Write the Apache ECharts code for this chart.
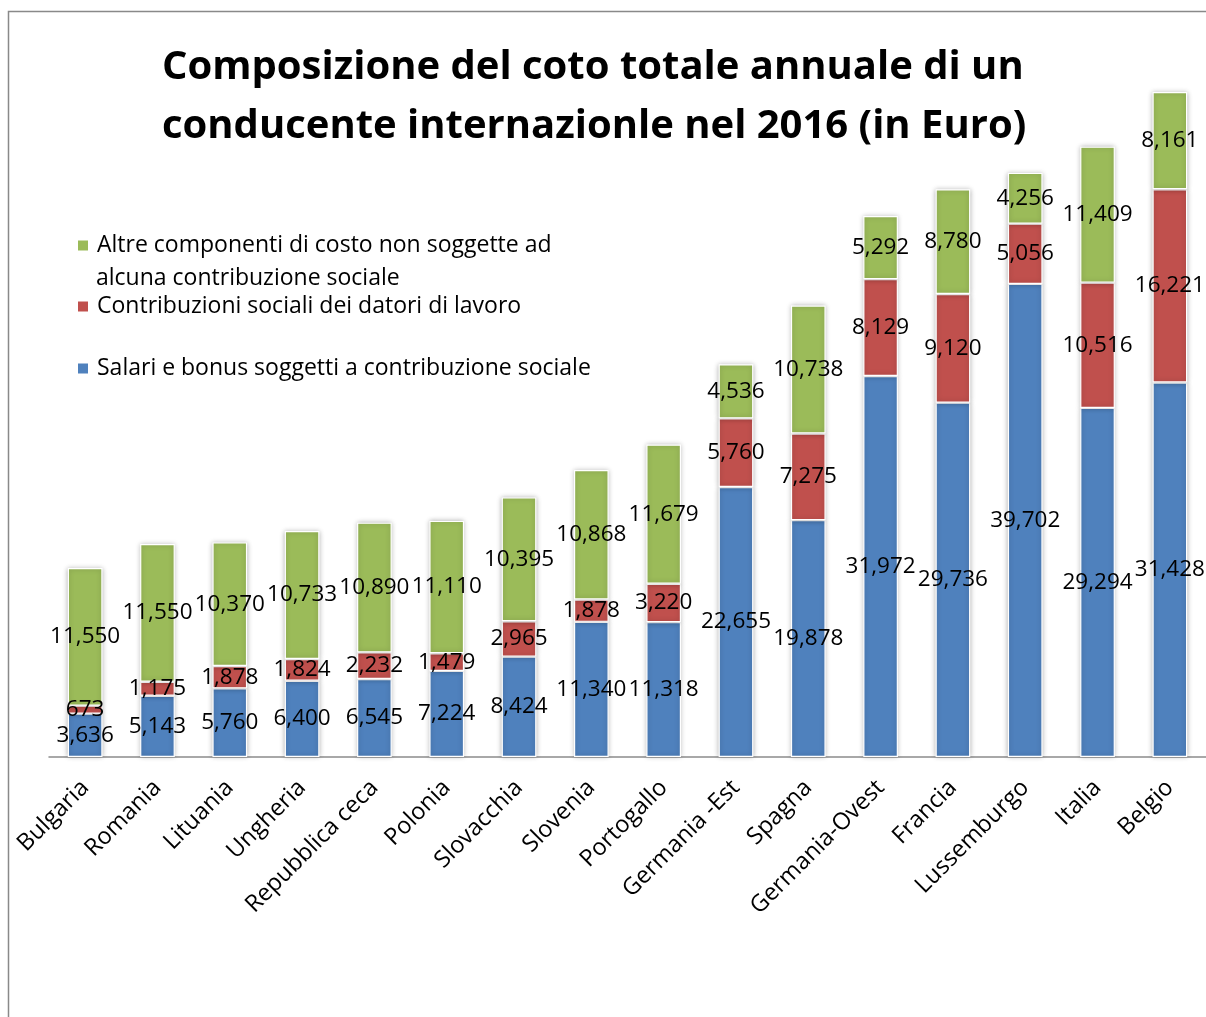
<!DOCTYPE html>
<html>
<head>
<meta charset="utf-8">
<script src="https://cdn.jsdelivr.net/npm/echarts@6/dist/echarts.min.js"></script>
<style>
html,body{margin:0;padding:0;background:#fff;}
#chart{width:1206px;height:1017px;}
</style>
</head>
<body>
<div id="chart"></div>
<script>
const categories = ['Bulgaria','Romania','Lituania','Ungheria','Repubblica ceca','Polonia','Slovacchia','Slovenia','Portogallo','Germania -Est','Spagna','Germania-Ovest','Francia','Lussemburgo','Italia','Belgio'];
const salari = [3636,5143,5760,6400,6545,7224,8424,11340,11318,22655,19878,31972,29736,39702,29294,31428];
const contributi = [673,1175,1878,1824,2232,1479,2965,1878,3220,5760,7275,8129,9120,5056,10516,16221];
const altre = [11550,11550,10370,10733,10890,11110,10395,10868,11679,4536,10738,5292,8780,4256,11409,8161];

const nameSalari = 'Salari e bonus soggetti a contribuzione sociale';
const nameContrib = 'Contribuzioni sociali dei datori di lavoro';
const nameAltre = 'Altre componenti di costo non soggette ad alcuna contribuzione sociale';

const FONT = 'Open Sans';
const chart = echarts.init(document.getElementById('chart'));

function barSeries(name, data, color) {
  return {
    name: name, type: 'bar', stack: 'tot', data: data,
    barWidth: '48%',
    itemStyle: {color: color, borderColor: '#fff', borderWidth: 1.2,
      shadowColor: 'rgba(0,0,0,0.28)', shadowBlur: 5},
    label: {show: true, position: 'inside', padding: [6, 0, 0, 0], color: '#000', fontFamily: FONT, fontSize: 22.5,
      formatter: p => p.value.toLocaleString('en-US')},
    labelLayout: {hideOverlap: false}
  };
}

const legendCommon = {orient: 'vertical', left: 76, padding: 0, itemWidth: 12, itemHeight: 12,
  icon: 'rect', textStyle: {fontFamily: FONT, fontSize: 23, color: '#000', padding: [0, 0, 0, 3]}, itemGap: 10};

chart.setOption({
  backgroundColor: '#fff',
  animation: false,
  title: {
    text: 'Composizione del coto totale annuale di un\nconducente internazionle nel 2016 (in Euro)',
    left: 162, top: 38, padding: 0,
    textStyle: {fontFamily: FONT, fontWeight: 'bold', fontSize: 40, lineHeight: 59, color: '#000'}
  },
  legend: [
    Object.assign({}, legendCommon, {top: 234, data: [nameAltre],
      formatter: () => 'Altre componenti di costo non soggette ad'}),
    Object.assign({}, legendCommon, {top: 295, data: [nameContrib]}),
    Object.assign({}, legendCommon, {top: 357, data: [nameSalari]})
  ],
  graphic: [
    {type: 'polyline', shape: {points: [[8.5, 1017], [8.5, 11.5], [1206, 11.5]]},
      style: {stroke: '#898989', lineWidth: 1.5, fill: null}, silent: true},
    {type: 'text', left: 96, top: 267, style: {text: 'alcuna contribuzione sociale',
      fontFamily: FONT, fontSize: 23, fill: '#000'}}
  ],
  grid: {left: 49, right: 0, top: 42, height: 715, containLabel: false},
  xAxis: {
    type: 'category', data: categories,
    axisLine: {lineStyle: {color: '#8c8c8c', width: 1.5}},
    axisTick: {show: false},
    axisLabel: {rotate: 45, interval: 0, margin: 27, fontFamily: FONT, fontSize: 23.5, color: '#000'}
  },
  yAxis: {type: 'value', min: 0, max: 60000, show: false, splitLine: {show: false}},
  series: [
    barSeries(nameSalari, salari, '#4F81BD'),
    barSeries(nameContrib, contributi, '#C0504D'),
    barSeries(nameAltre, altre, '#9BBB59')
  ]
});
</script>
</body>
</html>
